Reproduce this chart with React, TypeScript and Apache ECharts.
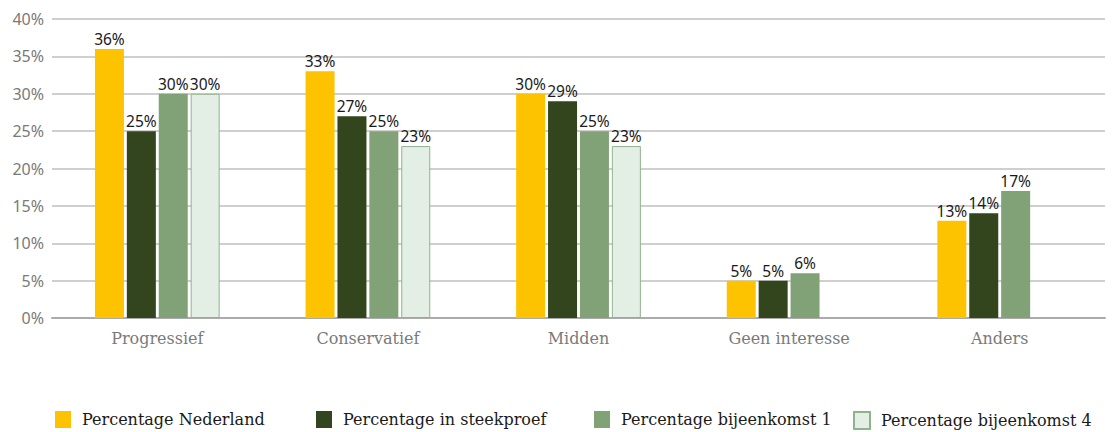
import React, { useEffect, useRef } from "react";
import * as echarts from "echarts";

const categories = ["Progressief", "Conservatief", "Midden", "Geen interesse", "Anders"];
const seriesNames = [
  "Percentage Nederland",
  "Percentage in steekproef",
  "Percentage bijeenkomst 1",
  "Percentage bijeenkomst 4",
];
const nederland = [36, 33, 30, 5, 13];
const steekproef = [25, 27, 29, 5, 14];
const bijeenkomst1 = [30, 25, 25, 6, 17];
const bijeenkomst4: (number | null)[] = [30, 23, 23, null, null];
const yTicks = [0, 5, 10, 15, 20, 25, 30, 35, 40];

const colors = ["#FDC300", "#33451D", "#80A276", "#E3EEE4"];
const legendLefts = [55, 316, 594, 853];

export default function App() {
  const ref = useRef<HTMLDivElement>(null);
  useEffect(() => {
    document.body.style.margin = "0";
    if (!ref.current) return;
    const chart = echarts.init(ref.current, null, { renderer: "svg" });
    const allData = [nederland, steekproef, bijeenkomst1, bijeenkomst4];
    const serifFont = "DejaVu Serif";
    const sansFont = "Noto Sans";
    chart.setOption({
      animation: false,
      grid: { left: 52, right: 12, top: 19, bottom: 114, containLabel: false },
      legend: seriesNames.map((n, i) => ({
        data: [n],
        left: legendLefts[i],
        top: 411,
        padding: 0,
        itemWidth: 16,
        itemHeight: 17,
        icon: "rect",
        textStyle: {
          fontFamily: serifFont,
          fontSize: 16,
          color: "#1a1a1a",
          padding: [0, 0, 0, 6],
        },
        selectedMode: false,
      })),
      xAxis: {
        type: "category",
        data: categories,
        axisTick: { show: false },
        axisLine: { lineStyle: { color: "#ababab", width: 2 } },
        axisLabel: {
          fontFamily: serifFont,
          fontSize: 16,
          color: "#7a7a7a",
          margin: 12,
        },
      },
      yAxis: {
        type: "value",
        min: yTicks[0],
        max: yTicks[yTicks.length - 1],
        interval: 5,
        axisLine: { show: false },
        axisTick: { show: false },
        splitLine: { lineStyle: { color: "#cfcfcf", width: 2 } },
        axisLabel: {
          formatter: "{value}%",
          fontFamily: sansFont,
          fontSize: 16,
          color: "#7a7a7a",
          margin: 8,
        },
      },
      series: allData.map((d, i) => ({
        name: seriesNames[i],
        type: "bar",
        data: d.map((v) => (v === null ? "-" : v)),
        barWidth: 29,
        barGap: "10%",
        itemStyle:
          i === 3
            ? { color: colors[i], borderColor: "#8FB38C", borderWidth: 1 }
            : { color: colors[i] },
        label: {
          show: true,
          position: "top",
          distance: 2,
          formatter: "{c}%",
          fontFamily: sansFont,
          fontSize: 15.5,
          color: "#1a1a1a",
        },
      })),
    });
    return () => chart.dispose();
  }, []);
  return <div ref={ref} style={{ width: 1117, height: 432 }} />;
}
